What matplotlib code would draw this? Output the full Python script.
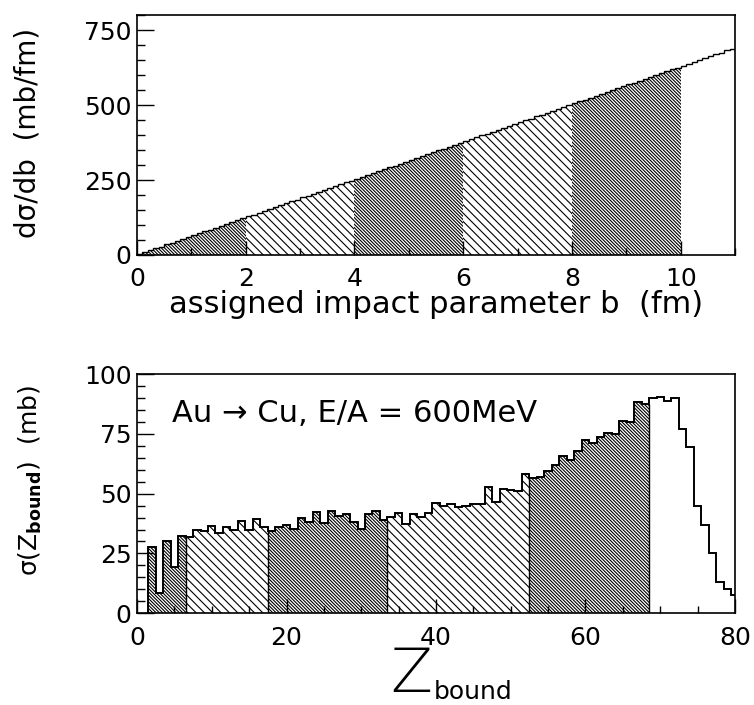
import numpy as np
import matplotlib.pyplot as plt
from matplotlib.ticker import MultipleLocator

plt.rcParams['font.family'] = ['DejaVu Sans']
plt.rcParams['mathtext.fontset'] = 'dejavusans'
plt.rcParams['hatch.linewidth'] = 0.8

# dsigma/db (mb/fm) in 0.1 fm bins from b = 0 to 11 fm
dsig_db = [3, 9, 16, 22, 28, 35, 41, 47, 53, 60,
           66, 72, 79, 85, 91, 97, 104, 110, 116, 122,
           129, 135, 141, 148, 154, 160, 166, 173, 179, 185,
           192, 198, 204, 210, 217, 223, 229, 236, 242, 248,
           254, 261, 267, 273, 280, 286, 292, 298, 305, 311,
           317, 324, 330, 336, 342, 349, 355, 361, 367, 374,
           380, 386, 393, 399, 405, 411, 418, 424, 430, 437,
           443, 449, 455, 462, 468, 474, 481, 487, 493, 499,
           506, 512, 518, 525, 531, 537, 543, 550, 556, 562,
           569, 575, 581, 587, 594, 600, 606, 613, 619, 625,
           631, 638, 644, 650, 657, 663, 669, 675, 682, 688]
b_edges = np.linspace(0, 11, 111)
b_cuts = [0, 2, 4, 6, 8, 10]

# sigma(Z_bound) (mb) for Z_bound = 2 .. 80
sig_z = [27.8, 8.3, 30.4, 19.4, 32.3, 31.9, 35.0, 34.4, 36.5, 33.6,
         36.1, 34.7, 38.7, 35.0, 39.4, 36.2, 34.4, 36.1, 37.1, 35.1,
         40.0, 38.3, 42.5, 37.6, 42.8, 40.8, 41.5, 38.3, 35.4, 41.5,
         42.8, 38.9, 40.3, 42.1, 37.2, 41.4, 40.1, 41.9, 46.2, 44.7,
         45.8, 44.4, 44.8, 45.5, 45.8, 52.6, 46.7, 51.8, 51.7, 51.1,
         58.0, 56.5, 56.9, 59.3, 61.9, 65.8, 63.9, 68.0, 72.6, 71.2,
         73.6, 75.5, 75.0, 80.3, 79.9, 88.2, 87.6, 89.8, 90.5, 88.9,
         89.8, 77.1, 69.6, 44.7, 36.8, 25.3, 12.9, 10.0, 7.5]
z_edges = np.arange(1.5, 81.0, 1.0)
z_cuts = [1.5, 6.5, 17.5, 33.5, 52.5, 68.5]

dense = '\\' * 10
sparse = '\\' * 4
hatches = [dense, sparse, dense, sparse, dense]


def hatched(ax, vals, edges, lo, hi, h):
    vals = np.asarray(vals)
    m = (edges[:-1] >= lo - 1e-6) & (edges[1:] <= hi + 1e-6)
    e = np.append(edges[:-1][m], edges[1:][m][-1])
    ax.stairs(vals[m], e, fill=True, facecolor='white', edgecolor='black',
              linewidth=0, hatch=h)


def style(ax, xmaj, xmin, ymaj, ymin):
    ax.xaxis.set_major_locator(MultipleLocator(xmaj))
    ax.xaxis.set_minor_locator(MultipleLocator(xmin))
    ax.yaxis.set_major_locator(MultipleLocator(ymaj))
    ax.yaxis.set_minor_locator(MultipleLocator(ymin))
    ax.tick_params(which='both', direction='in', top=False, right=False,
                   width=1.0, labelsize=18)
    ax.tick_params(axis='y', which='major', length=12, pad=4)
    ax.tick_params(axis='y', which='minor', length=6)
    ax.tick_params(axis='x', which='major', length=10, pad=9)
    ax.tick_params(axis='x', which='minor', length=5)
    for s in ax.spines.values():
        s.set_linewidth(1.2)


fig = plt.figure(figsize=(7.54, 7.05), dpi=100)
ax1 = fig.add_axes([0.1817, 0.6383, 0.7931, 0.3404])
ax2 = fig.add_axes([0.1817, 0.1301, 0.7931, 0.3394])

# top: impact parameter distribution
for i in range(5):
    hatched(ax1, dsig_db, b_edges, b_cuts[i], b_cuts[i + 1], hatches[i])
ax1.stairs(dsig_db, b_edges, color='black', linewidth=1.0, baseline=None)
ax1.set_xlim(0, 11)
ax1.set_ylim(0, 800)
style(ax1, 2, 1, 250, 50)

# bottom: Z_bound distribution
for i in range(5):
    hatched(ax2, sig_z, z_edges, z_cuts[i], z_cuts[i + 1], hatches[i])
ax2.stairs(sig_z, z_edges, color='black', linewidth=1.4)
for c in z_cuts[1:]:
    k = int(c - 1.5)
    ax2.vlines(c, 0, min(sig_z[k - 1], sig_z[k]), color='black', linewidth=1.0)
ax2.set_xlim(0, 80)
ax2.set_ylim(0, 100)
style(ax2, 20, 5, 25, 5)
ax2.text(4.7, 83.5, 'Au \u2192 Cu, E/A = 600MeV', fontsize=22, va='center')

# axis titles
fig.text(0.037, 0.811, 'd\u03c3/db  (mb/fm)', rotation=90, fontsize=20,
         ha='center', va='center')
fig.text(0.578, 0.568, 'assigned impact parameter b  (fm)', fontsize=22,
         ha='center', va='center')
fig.text(0.040, 0.319, '\u03c3(Z$_{\\mathbf{bound}}$)  (mb)', rotation=90,
         fontsize=18, ha='center', va='center')
fig.text(0.573, 0.018, 'Z', fontsize=44, fontweight='light', ha='right',
         va='baseline')
fig.text(0.575, 0.008, 'bound', fontsize=18, ha='left', va='baseline')

fig.savefig('out.png', dpi=100)
